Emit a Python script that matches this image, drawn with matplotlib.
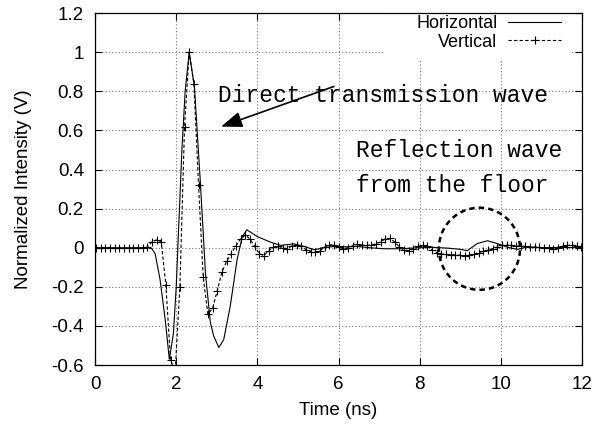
import numpy as np
import matplotlib
matplotlib.use("Agg")
import matplotlib.pyplot as plt
from matplotlib.patches import Ellipse, Rectangle

plt.rcParams['font.family'] = ['Liberation Sans', 'DejaVu Sans']

# Vertical series: sampled every 0.115 ns starting at 0.02 ns
vert_t = 0.02 + 0.115 * np.arange(105)
vert_v = [0, 0, 0, 0, -0.002, -0.002, -0.003, -0.003, -0.002, -0.002,
          0, 0.003, 0.03, 0.04, 0.03, -0.19, -0.575, -0.63, -0.2, 0.62,
          1.0, 0.84, 0.32, -0.15, -0.34, -0.31, -0.22, -0.125, -0.07, -0.03,
          0.01, 0.045, 0.065, 0.045, 0.008, -0.03, -0.04, -0.014, 0.003, 0.008,
          0.0, -0.005, 0.01, 0.015, 0.008, -0.01, -0.02, -0.022, -0.015, 0.003,
          0.015, 0.015, 0.003, -0.005, 0.0, 0.01, 0.017, 0.014, 0.012, 0.014,
          0.02, 0.03, 0.045, 0.048, 0.03, 0.005, -0.012, -0.014, -0.005, 0.007,
          0.012, 0.007, -0.01, -0.025, -0.032, -0.034, -0.036, -0.036, -0.038, -0.04,
          -0.038, -0.032, -0.025, -0.018, -0.012, -0.004, 0.005, 0.012, 0.014, 0.012,
          0.01, 0.008, 0.007, 0.006, 0.004, 0.002, 0.0, -0.003, -0.005, 0.0,
          0.008, 0.012, 0.014, 0.01, 0.002]

# Horizontal series
horiz_t = [0, 1.3, 1.4, 1.48, 1.6, 1.73, 1.83, 1.93, 2.0, 2.14, 2.22, 2.32,
           2.45, 2.59, 2.72, 2.84, 2.92, 3.05, 3.17, 3.33, 3.5, 3.63, 3.74,
           3.99, 4.32, 4.57, 4.9, 5.15, 5.4, 5.64, 5.89, 6.2, 6.45, 6.78,
           7.12, 7.53, 7.95, 8.35, 8.7, 9.0, 9.17, 9.42, 9.67, 9.9, 10.17,
           10.41, 10.66, 11.0, 11.5, 12.0]
horiz_v = [0, 0, -0.005, -0.03, -0.16, -0.37, -0.57, -0.44, -0.2, 0.5, 0.8, 1.0,
           0.82, 0.35, -0.13, -0.38, -0.45, -0.51, -0.47, -0.3, -0.06, 0.058, 0.092,
           0.058, 0.029, 0.012, 0.02, 0.007, -0.01, 0.0, 0.007, 0.005, 0.007, 0.0,
           -0.005, -0.005, 0.0, 0.002, -0.002, -0.008, -0.015, 0.022, 0.036, 0.022, 0.002,
           -0.008, 0.005, 0.0, 0.002, 0.0]

xticks = [0, 2, 4, 6, 8, 10, 12]
yticks = [-0.6, -0.4, -0.2, 0, 0.2, 0.4, 0.6, 0.8, 1.0, 1.2]
ytick_labels = ['-0.6', '-0.4', '-0.2', '0', '0.2', '0.4', '0.6', '0.8', '1', '1.2']

fig = plt.figure(figsize=(5.94, 4.25), dpi=100)
ax = fig.add_axes([0.16, 0.141, 0.82, 0.828])

ax.plot(horiz_t, horiz_v, color='k', lw=0.8, label='Horizontal', zorder=3)
ax.plot(vert_t, vert_v, color='k', lw=0.8, ls=(0, (3, 2)), marker='+',
        ms=6, mew=0.8, label='Vertical', zorder=3)

ax.set_xlim(0, 12)
ax.set_ylim(-0.6, 1.2)
ax.set_xticks(xticks)
ax.set_xticklabels([str(x) for x in xticks])
ax.set_yticks(yticks)
ax.set_yticklabels(ytick_labels)
ax.grid(True, ls=(0, (1, 2)), color='#777777', lw=0.8)
ax.tick_params(direction='in', top=True, right=True, length=5, width=0.8,
               labelsize=13.5, pad=8)
for s in ax.spines.values():
    s.set_linewidth(0.9)

ax.set_xlabel('Time (ns)', fontsize=13.5, labelpad=6)
ax.set_ylabel('Normalized Intensity (V)', fontsize=13.5, labelpad=14)

# white key area (blanks the grid behind the legend)
ax.add_patch(Rectangle((0.595, 0.866), 0.385, 0.134, transform=ax.transAxes,
                       facecolor='white', edgecolor='none', zorder=2))

leg = ax.legend(loc='upper right', bbox_to_anchor=(0.96, 1.0), frameon=False,
                markerfirst=False, fontsize=13, handlelength=2.9,
                handletextpad=0.6, labelspacing=0.1, borderpad=0.1,
                borderaxespad=0)

ax.annotate('', xy=(3.04, 0.615), xytext=(5.95, 0.83),
            arrowprops=dict(arrowstyle='-|>,head_length=0.8,head_width=0.3',
                            color='k', lw=1.2, mutation_scale=16), zorder=4)
mono = ['Liberation Mono', 'DejaVu Sans Mono']
ax.text(3.04, 0.78, 'Direct transmission wave', family=mono, fontsize=16.5,
        va='center', ha='left')
ax.text(6.42, 0.5, 'Reflection wave', family=mono, fontsize=16.5,
        va='center', ha='left')
ax.text(6.42, 0.32, 'from the floor', family=mono, fontsize=16.5,
        va='center', ha='left')

ax.add_patch(Ellipse((9.47, -0.005), 2.0, 0.42, fill=False, color='k',
                     lw=1.8, ls=(0, (2.2, 1.6)), zorder=4))

fig.savefig('out.png', dpi=100)
